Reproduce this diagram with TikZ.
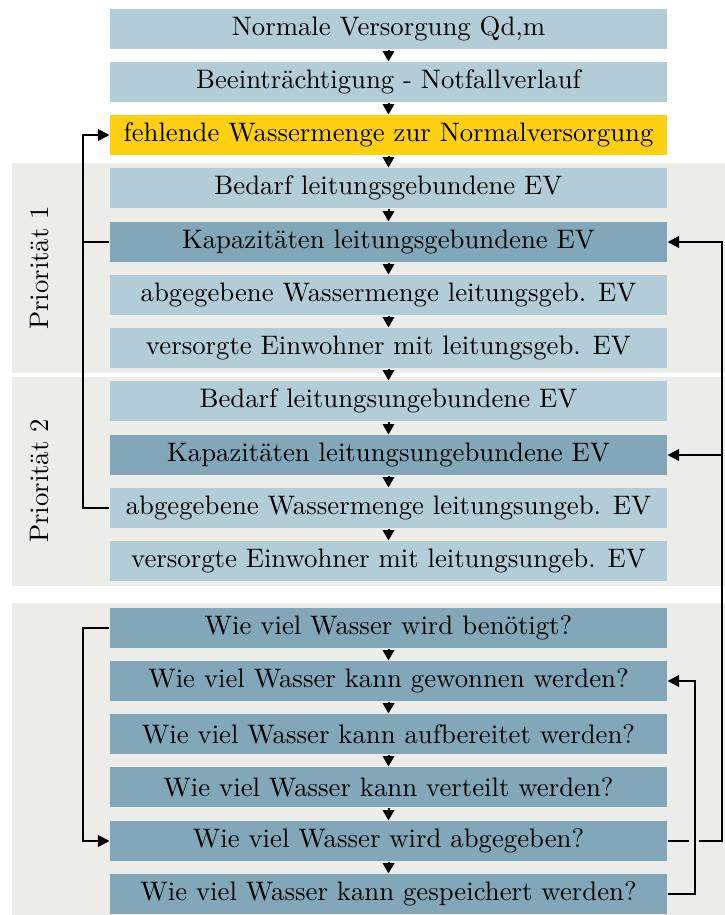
\documentclass[tikz,border=0pt]{standalone}
\usetikzlibrary{arrows.meta}
\definecolor{boxlight}{HTML}{B3CDD8}
\definecolor{boxdark}{HTML}{82A7B9}
\definecolor{boxyellow}{HTML}{FFD012}
\definecolor{panelgray}{HTML}{ECECE8}
\begin{document}
\begin{tikzpicture}[
  x=0.4pt, y=-0.4pt,
  font=\fontsize{10.7}{12.5}\selectfont,
  stepbox/.style={minimum width=222.8pt, minimum height=16pt, inner sep=0pt, anchor=center},
  light/.style={stepbox, fill=boxlight},
  dark/.style={stepbox, fill=boxdark},
  yellowbox/.style={stepbox, fill=boxyellow},
  panel/.style={fill=panelgray, draw=none},
  flow/.style={line width=0.8pt, -{Triangle[length=4.2pt,width=4.6pt]}},
  link/.style={line width=0.8pt},
  linkarrow/.style={line width=0.8pt, -{Triangle[length=4.6pt,width=4.6pt]}}
]
\useasboundingbox (0,0) rectangle (725,915);

% background panels
\fill[panel] (12,163) rectangle (725,373);
\fill[panel] (12,377) rectangle (725,586);
\fill[panel] (12,603) rectangle (725,915);

\node[rotate=90] (p1) at (40,268) {Priorität 1};
\node[rotate=90] (p2) at (40,481) {Priorität 2};

% main chain
\node[light]     (n1)  at (388.5,29)  {Normale Versorgung Qd,m};
\node[light]     (n2)  at (388.5,82)  {Beeinträchtigung - Notfallverlauf};
\node[yellowbox] (n3)  at (388.5,135) {fehlende Wassermenge zur Normalversorgung};
\node[light]     (n4)  at (388.5,188) {Bedarf leitungsgebundene EV};
\node[dark]      (n5)  at (388.5,242) {Kapazitäten leitungsgebundene EV};
\node[light]     (n6)  at (388.5,295) {abgegebene Wassermenge leitungsgeb. EV};
\node[light]     (n7)  at (388.5,348) {versorgte Einwohner mit leitungsgeb. EV};
\node[light]     (n8)  at (388.5,401) {Bedarf leitungsungebundene EV};
\node[dark]      (n9)  at (388.5,455) {Kapazitäten leitungsungebundene EV};
\node[light]     (n10) at (388.5,508) {abgegebene Wassermenge leitungsungeb. EV};
\node[light]     (n11) at (388.5,561) {versorgte Einwohner mit leitungsungeb. EV};

% question chain
\node[dark] (q1) at (388.5,628) {Wie viel Wasser wird benötigt?};
\node[dark] (q2) at (388.5,681) {Wie viel Wasser kann gewonnen werden?};
\node[dark] (q3) at (388.5,734) {Wie viel Wasser kann aufbereitet werden?};
\node[dark] (q4) at (388.5,787) {Wie viel Wasser kann verteilt werden?};
\node[dark] (q5) at (388.5,841) {Wie viel Wasser wird abgegeben?};
\node[dark] (q6) at (388.5,894) {Wie viel Wasser kann gespeichert werden?};

% straight flow arrows
\foreach \a/\b in {n1/n2,n2/n3,n3/n4,n4/n5,n5/n6,n6/n7,n7/n8,n8/n9,n9/n10,n10/n11,
                   q1/q2,q2/q3,q3/q4,q4/q5,q5/q6}
  \draw[flow] (\a.south) -- (\b.north);

% left feedback loops
\draw[linkarrow] (n5.west) -- ++(-26,0) |- (n3.west);
\draw[link] (n10.west) -- ++(-26,0) |- (n5.west);
\draw[linkarrow] (q1.west) -- ++(-26,0) |- (q5.west);

% right feedback loops (outer line jumps over the inner one)
\coordinate (jumpL) at (689,841);
\coordinate (jumpR) at (699,841);
\coordinate (rtop)  at (722,242);
\coordinate (rmid)  at (722,455);
\draw[link] (q5.east) -- (jumpL);
\draw[linkarrow] (jumpR) -| (rtop) -- (n5.east);
\draw[linkarrow] (rmid) -- (n9.east);
\draw[linkarrow] (q6.east) -- ++(27,0) |- (q2.east);
\end{tikzpicture}
\end{document}
